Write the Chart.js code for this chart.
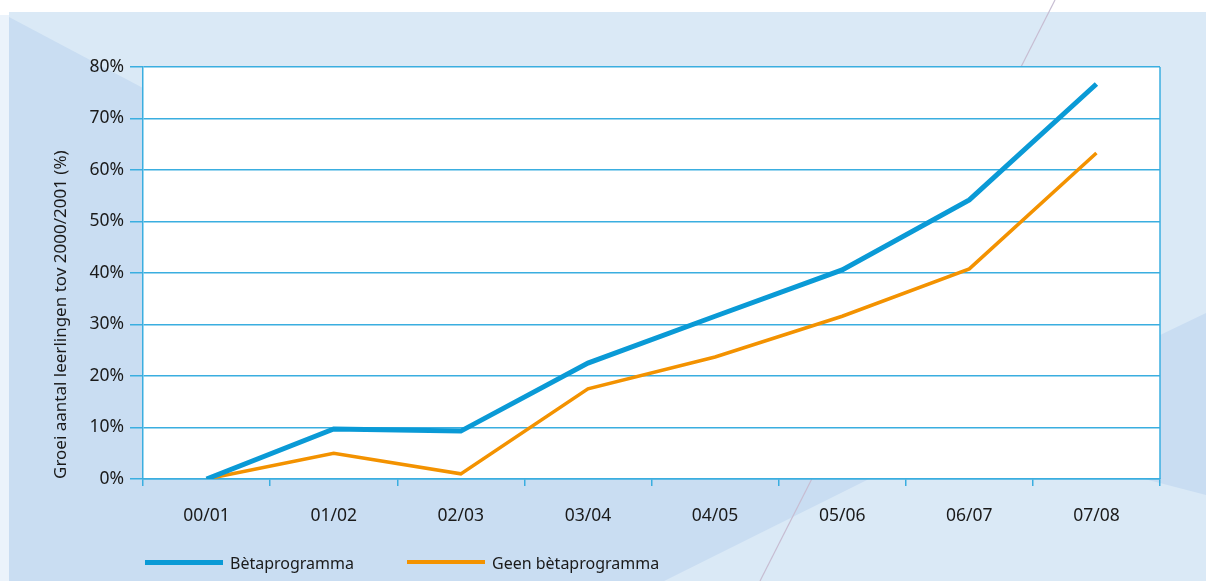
<!DOCTYPE html>
<html>
<head>
<meta charset="utf-8">
<script src="https://cdn.jsdelivr.net/npm/chart.js@4/dist/chart.umd.min.js"></script>
<style>
  html, body { margin: 0; padding: 0; background: #ffffff; }
  #wrap { position: relative; width: 1206px; height: 581px; overflow: hidden; }
  canvas { position: absolute; left: 0; top: 0; }
  .lg-line { position: absolute; }
  .lg-text { position: absolute; font-family: "Noto Sans", "Open Sans", sans-serif; font-size: 16px; color: #1a1a1a; line-height: 20px; white-space: nowrap; }
</style>
</head>
<body>
<div id="wrap">
  <canvas id="c" width="1206" height="581"></canvas>
  <div class="lg-line" style="left:145px; top:560px; width:78px; height:5px; background:#0a9ad6;"></div>
  <div class="lg-text" id="lg1" style="left:230px; top:553px;"></div>
  <div class="lg-line" style="left:407px; top:560px; width:78px; height:4px; background:#f39200;"></div>
  <div class="lg-text" id="lg2" style="left:492px; top:553px;"></div>
</div>
<script>
const categories = ["00/01", "01/02", "02/03", "03/04", "04/05", "05/06", "06/07", "07/08"];
const betaValues = [0, 9.7, 9.3, 22.5, 31.6, 40.6, 54.2, 76.7];
const geenBetaValues = [0, 5.0, 1.0, 17.5, 23.7, 31.6, 40.8, 63.3];
const seriesNames = ["Bètaprogramma", "Geen bètaprogramma"];
const yTitle = "Groei aantal leerlingen tov 2000/2001 (%)";

document.getElementById('lg1').textContent = seriesNames[0];
document.getElementById('lg2').textContent = seriesNames[1];

const AXIS = '#3aaee0';
const FONT = '"Noto Sans", "Open Sans", sans-serif';

const backgroundPlugin = {
  id: 'bg',
  beforeDraw(chart) {
    const ctx = chart.ctx;
    const W = chart.width, H = chart.height;
    ctx.save();
    ctx.fillStyle = '#ffffff';
    ctx.fillRect(0, 0, W, H);
    ctx.fillStyle = '#ebf3fb';
    ctx.fillRect(0, 15, 9, H);
    ctx.fillStyle = '#dae9f6';
    ctx.fillRect(9, 12, W - 9, H - 12);
    ctx.fillStyle = '#c9ddf2';
    ctx.beginPath();
    ctx.moveTo(9, 17);
    ctx.lineTo(875, 476);
    ctx.lineTo(630, 598);
    ctx.lineTo(9, 598);
    ctx.closePath();
    ctx.fill();
    ctx.beginPath();
    ctx.moveTo(960, 431);
    ctx.lineTo(1206, 313);
    ctx.lineTo(1206, 495);
    ctx.closePath();
    ctx.fill();
    ctx.strokeStyle = '#c7bdd2';
    ctx.lineWidth = 1.2;
    ctx.beginPath();
    ctx.moveTo(1055, 0);
    ctx.lineTo(760, 581);
    ctx.stroke();
    const a = chart.chartArea;
    ctx.fillStyle = '#ffffff';
    ctx.fillRect(a.left, a.top, a.right - a.left, a.bottom - a.top);
    ctx.restore();
  },
  afterDraw(chart) {
    const ctx = chart.ctx;
    const a = chart.chartArea;
    ctx.save();
    ctx.strokeStyle = AXIS;
    ctx.lineWidth = 1.5;
    ctx.beginPath();
    ctx.moveTo(a.right, a.top);
    ctx.lineTo(a.right, a.bottom);
    ctx.stroke();
    ctx.restore();
  }
};

new Chart(document.getElementById('c'), {
  type: 'line',
  data: {
    labels: categories,
    datasets: [
      {
        label: seriesNames[0],
        data: betaValues,
        borderColor: '#0a9ad6',
        backgroundColor: '#0a9ad6',
        borderWidth: 5,
        pointRadius: 0,
        tension: 0,
        fill: false
      },
      {
        label: seriesNames[1],
        data: geenBetaValues,
        borderColor: '#f39200',
        backgroundColor: '#f39200',
        borderWidth: 3.5,
        pointRadius: 0,
        tension: 0,
        fill: false
      }
    ]
  },
  options: {
    responsive: false,
    animation: false,
    layout: { padding: { left: 0, right: 46, top: 67, bottom: 52 } },
    plugins: {
      legend: { display: false },
      tooltip: { enabled: false }
    },
    scales: {
      x: {
        type: 'category',
        offset: true,
        grid: {
          offset: true,
          drawOnChartArea: false,
          drawTicks: true,
          tickLength: 7,
          color: AXIS,
          lineWidth: 1.5
        },
        border: { display: true, color: AXIS, width: 1.5 },
        ticks: {
          color: '#1a1a1a',
          font: { family: FONT, size: 17.5 },
          padding: 20,
          maxRotation: 0
        },
        afterFit(scale) { scale.height = 50; }
      },
      y: {
        min: 0,
        max: 80,
        ticks: {
          stepSize: 10,
          color: '#1a1a1a',
          font: { family: FONT, size: 17.5 },
          padding: 6,
          callback: v => v + '%'
        },
        grid: {
          color: AXIS,
          lineWidth: 1.5,
          drawTicks: true,
          tickLength: 13
        },
        border: { display: true, color: AXIS, width: 1.5 },
        title: {
          display: true,
          text: yTitle,
          align: 'start',
          color: '#1a1a1a',
          font: { family: FONT, size: 17 },
          padding: { top: 51, bottom: 0 }
        },
        afterFit(scale) { scale.width = 143; }
      }
    }
  },
  plugins: [backgroundPlugin]
});
</script>
</body>
</html>
